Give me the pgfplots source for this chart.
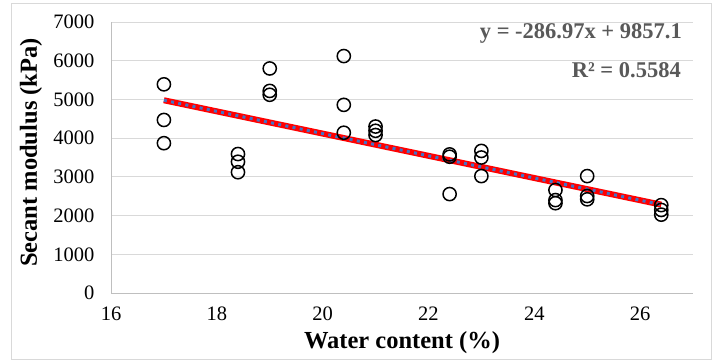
\documentclass[border=0pt]{standalone}
\usepackage{fontspec}
\setmainfont{Liberation Serif}
\usepackage{pgfplots}
\usepackage{pgfplotstable}
\pgfplotsset{compat=1.18}
\definecolor{gridc}{HTML}{D9D9D9}
\definecolor{axc}{HTML}{BFBFBF}
\definecolor{eqc}{HTML}{595959}
\definecolor{dotc}{HTML}{4472C4}
\pgfplotstableread{
x y
17 5390
17 4470
17 3870
18.4 3590
18.4 3390
18.4 3120
19 5800
19 5220
19 5120
20.4 6120
20.4 4860
20.4 4140
21 4300
21 4190
21 4080
22.4 3580
22.4 3520
22.4 2555
23 3670
23 3500
23 3020
24.4 2660
24.4 2400
24.4 2320
25 3020
25 2505
25 2420
26.4 2270
26.4 2145
26.4 2024
}\datatable
\begin{document}
\begin{tikzpicture}[x=1bp,y=1bp]
\path (0,0) rectangle (712,360);
\draw[gridc, line width=1bp] (11,1) rectangle (711,356);
\begin{axis}[
  at={(111bp,67bp)}, anchor=south west,
  scale only axis, width=582bp, height=271bp,
  xmin=16, xmax=27, ymin=0, ymax=7000,
  xtick={16,18,...,26}, ytick={0,1000,...,7000},
  axis x line=bottom, axis y line=left,
  axis line style={-, axc, line width=1bp},
  ymajorgrids, grid style={gridc, line width=1bp},
  major tick length=0pt,
  /pgf/number format/assume math mode=true,
  /pgf/number format/1000 sep={},
  tick label style={font=\fontsize{20.5bp}{24bp}\selectfont, text=black},
  yticklabel style={xshift=-13bp},
  xticklabel style={yshift=-10bp},
  clip=false,
]
\addplot[only marks, mark=o, mark size=6.6bp, mark options={line width=1.5bp, draw=black}] table[x=x,y=y] {\datatable};
\addplot[red, line width=6bp] coordinates {(17,4978.6) (26.4,2281.7)};
\addplot[dotc, line width=3bp, dash pattern=on 3bp off 4.3bp] coordinates {(17,4978.6) (26.4,2281.7)};
\end{axis}
\node[rotate=90, font=\fontsize{24.5bp}{28bp}\selectfont\bfseries] at (31,207.5) {Secant modulus (kPa)};
\node[anchor=base, font=\fontsize{24.5bp}{28bp}\selectfont\bfseries] at (402,12) {Water content (\%)};
\node[anchor=base east, inner sep=0pt, text=eqc, font=\fontsize{22.5bp}{26bp}\selectfont\bfseries] at (682,322) {y = -286.97x + 9857.1};
\node[anchor=base east, inner sep=0pt, text=eqc, font=\fontsize{22.5bp}{26bp}\selectfont\bfseries] at (681,282.5) {R² = 0.5584};
\end{tikzpicture}
\end{document}
